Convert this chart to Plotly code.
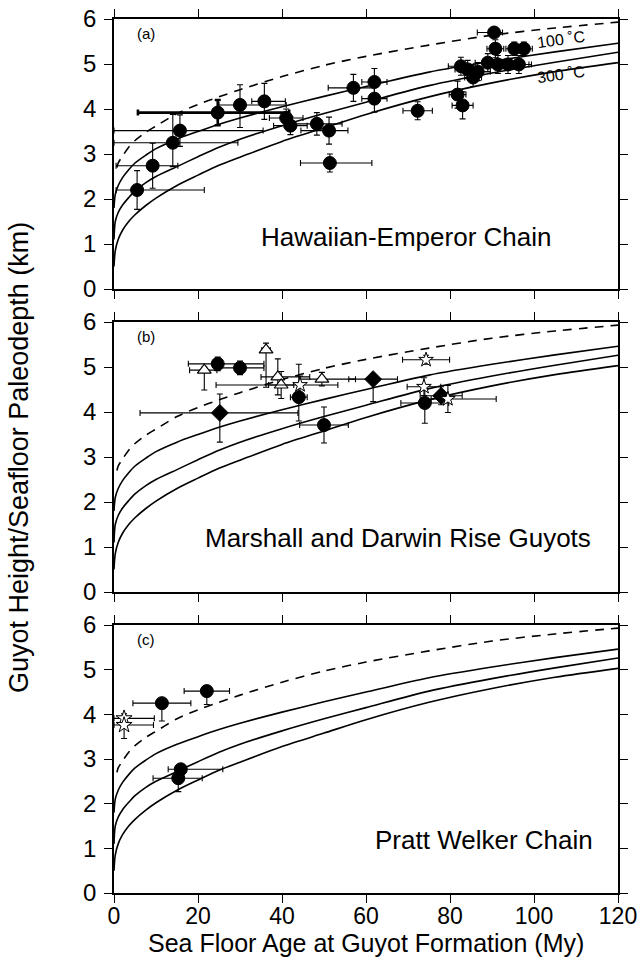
import plotly.graph_objects as go

FONT = "Liberation Sans, Arial, Helvetica, sans-serif"

# ---------------- model curves ----------------
curve_age = [0, 0.3, 1, 2, 3.5, 5, 7.5, 10, 15, 20, 25, 30, 40, 50, 60, 75, 90, 105, 120]
curve_top = [1.8, 2.1, 2.3, 2.47, 2.65, 2.8, 2.97, 3.12, 3.33, 3.5, 3.66, 3.8, 4.05, 4.28, 4.5, 4.82, 5.06, 5.27, 5.46]
curve_mid = [1.1, 1.5, 1.7, 1.86, 2.03, 2.18, 2.36, 2.5, 2.72, 2.94, 3.15, 3.33, 3.63, 3.9, 4.15, 4.52, 4.8, 5.04, 5.26]
curve_bot = [0.5, 0.85, 1.1, 1.3, 1.5, 1.65, 1.85, 2.02, 2.3, 2.53, 2.75, 2.93, 3.28, 3.58, 3.88, 4.27, 4.58, 4.83, 5.03]
dashed_age = [0.7, 1, 2, 3.5, 5, 7.5, 10, 15, 20, 25, 30, 40, 50, 60, 75, 90, 105, 120]
dashed_val = [2.7, 2.8, 2.95, 3.15, 3.3, 3.48, 3.62, 3.9, 4.1, 4.27, 4.43, 4.72, 4.97, 5.17, 5.42, 5.64, 5.8, 5.93]

# ---------------- (a) Hawaiian-Emperor Chain ----------------
ha_age = [5.5, 9.2, 14.0, 15.7, 30.0, 35.8, 41.0, 42.0, 48.3, 51.2, 51.4, 57.0, 62.0, 62.0, 72.3,
          81.8, 83.0, 90.5, 90.8, 95.3, 97.6, 82.6, 84.2, 85.5, 86.6, 89.0, 91.4, 93.8, 96.4]
ha_depth = [2.2, 2.74, 3.25, 3.52, 4.09, 4.17, 3.8, 3.63, 3.67, 3.52, 2.8, 4.47, 4.6, 4.23, 3.96,
            4.32, 4.08, 5.7, 5.34, 5.34, 5.34, 4.95, 4.88, 4.7, 4.83, 5.03, 4.99, 4.99, 4.99]
ha_xm = [5.0, 8.7, 14.0, 15.7, 5.0, 3.0, 4.0, 4.0, 6.0, 6.7, 7.0, 6.0, 3.0, 3.0, 3.5,
         2.0, 2.5, 4.0, 2.0, 2.0, 2.0, 3.0, 3.0, 2.0, 3.0, 3.0, 3.0, 3.0, 3.0]
ha_xp = [16.0, 6.0, 15.5, 19.8, 11.0, 5.0, 4.0, 4.0, 6.0, 4.5, 10.0, 5.0, 3.0, 3.0, 3.5,
         2.0, 2.5, 2.0, 2.0, 2.0, 2.0, 3.0, 3.0, 2.0, 3.0, 3.0, 3.0, 5.0, 3.0]
ha_ym = [0.43, 0.5, 0.53, 0.35, 0.5, 0.4, 0.2, 0.2, 0.25, 0.3, 0.2, 0.3, 0.3, 0.3, 0.2,
         0.3, 0.3, 0.1, 0.2, 0.15, 0.15, 0.2, 0.2, 0.2, 0.2, 0.2, 0.2, 0.2, 0.2]
ha_yp = [0.43, 0.5, 0.63, 0.35, 0.45, 0.4, 0.2, 0.2, 0.25, 0.3, 0.2, 0.3, 0.3, 0.3, 0.2,
         0.3, 0.3, 0.1, 0.2, 0.15, 0.15, 0.2, 0.2, 0.2, 0.2, 0.2, 0.2, 0.2, 0.2]
ha_thick_age = [24.7]
ha_thick_depth = [3.92]
ha_thick_xm = [19.0]
ha_thick_xp = [17.0]
ha_thick_y = [0.28]

# ---------------- (b) Marshall and Darwin Rise Guyots ----------------
mb_circ_age = [24.7, 30.0, 44.0, 50.0, 74.0]
mb_circ_depth = [5.07, 4.98, 4.33, 3.71, 4.2]
mb_circ_xm = [7.0, 6.0, 2.0, 5.8, 5.7]
mb_circ_xp = [11.0, 5.7, 2.0, 5.8, 5.7]
mb_circ_ym = [0.15, 0.15, 0.53, 0.4, 0.45]
mb_circ_yp = [0.15, 0.15, 0.73, 0.4, 0.36]

mb_tri_age = [21.5, 36.2, 39.0, 39.8, 49.5]
mb_tri_depth = [4.93, 5.38, 4.78, 4.6, 4.73]
mb_tri_xm = [3.5, 1.0, 4.0, 3.0, 5.2]
mb_tri_xp = [3.0, 1.0, 7.6, 3.0, 8.0]
mb_tri_ym = [0.44, 0.83, 0.4, 0.3, 0.15]
mb_tri_yp = [0.07, 0.15, 0.4, 0.3, 0.15]

mb_dia_age = [25.2, 61.7, 77.9]
mb_dia_depth = [3.98, 4.73, 4.36]
mb_dia_xm = [19.0, 5.8, 5.0]
mb_dia_xp = [18.6, 5.8, 5.0]
mb_dia_ym = [0.65, 0.5, 0.2]
mb_dia_yp = [0.42, 0.1, 0.2]

mb_star_age = [44.3, 74.3, 73.8, 79.5]
mb_star_depth = [4.6, 5.16, 4.56, 4.29]
mb_star_xm = [20.0, 5.6, 4.0, 4.0]
mb_star_xp = [9.0, 5.6, 4.0, 11.5]
mb_star_ym = [0.2, 0.1, 0.2, 0.3]
mb_star_yp = [0.2, 0.1, 0.2, 0.3]

# ---------------- (c) Pratt Welker Chain ----------------
pw_circ_age = [11.4, 22.1, 15.9, 15.3]
pw_circ_depth = [4.25, 4.52, 2.77, 2.57]
pw_circ_xm = [6.9, 5.4, 3.0, 6.0]
pw_circ_xp = [6.9, 5.4, 10.0, 5.7]
pw_circ_ym = [0.4, 0.3, 0.1, 0.3]
pw_circ_yp = [0.05, 0.05, 0.1, 0.05]

pw_star_age = [2.4, 2.4]
pw_star_depth = [3.91, 3.76]
pw_star_xm = [2.4, 2.4]
pw_star_xp = [7.2, 7.0]
pw_star_ym = [0.1, 0.3]
pw_star_yp = [0.1, 0.1]

x_ticks = [0, 20, 40, 60, 80, 100, 120]
y_ticks = [0, 1, 2, 3, 4, 5, 6]

panel_labels = ["(a)", "(b)", "(c)"]
chain_labels = ["Hawaiian-Emperor Chain", "Marshall and Darwin Rise Guyots", "Pratt Welker Chain"]
iso_labels = ["100 ˚C", "300 ˚C"]

x_title = "Sea Floor Age at Guyot Formation (My)"
y_title = "Guyot Height/Seafloor Paleodepth (km)"

fig = go.Figure()

# axes ids: panel a -> x3/y3, panel b -> x2/y2, panel c -> x/y
panels = [("x3", "y3"), ("x2", "y2"), ("x", "y")]


def add_curves(xa, ya):
    for vals in (curve_top, curve_mid, curve_bot):
        fig.add_trace(go.Scatter(x=curve_age, y=vals, mode="lines", xaxis=xa, yaxis=ya,
                                 line=dict(color="black", width=1.6, shape="spline", smoothing=0.8),
                                 hoverinfo="skip", showlegend=False))
    fig.add_trace(go.Scatter(x=dashed_age, y=dashed_val, mode="lines", xaxis=xa, yaxis=ya,
                             line=dict(color="black", width=1.6, dash="9px,7px", shape="spline",
                                       smoothing=0.8),
                             hoverinfo="skip", showlegend=False))


def add_points(xa, ya, xs, ys, xm, xp, ym, yp, symbol, size, fill, thick=1.1, linew=1.0):
    fig.add_trace(go.Scatter(
        x=xs, y=ys, mode="markers", xaxis=xa, yaxis=ya, showlegend=False,
        marker=dict(symbol=symbol, size=size, color=fill, line=dict(color="black", width=linew)),
        error_x=dict(type="data", symmetric=False, array=xp, arrayminus=xm,
                     color="black", thickness=thick, width=3),
        error_y=dict(type="data", symmetric=False, array=yp, arrayminus=ym,
                     color="black", thickness=thick, width=3),
    ))


for xa, ya in panels:
    add_curves(xa, ya)

# panel a
add_points("x3", "y3", ha_thick_age, ha_thick_depth, ha_thick_xm, ha_thick_xp,
           ha_thick_y, ha_thick_y, "circle", 13, "black", thick=2.6)
add_points("x3", "y3", ha_age, ha_depth, ha_xm, ha_xp, ha_ym, ha_yp, "circle", 13, "black")

# panel b
add_points("x2", "y2", mb_tri_age, mb_tri_depth, mb_tri_xm, mb_tri_xp, mb_tri_ym, mb_tri_yp,
           "triangle-up", 12, "white", linew=1.2)
add_points("x2", "y2", mb_circ_age, mb_circ_depth, mb_circ_xm, mb_circ_xp, mb_circ_ym, mb_circ_yp,
           "circle", 13, "black")
add_points("x2", "y2", mb_dia_age, mb_dia_depth, mb_dia_xm, mb_dia_xp, mb_dia_ym, mb_dia_yp,
           "diamond", 13, "black")
add_points("x2", "y2", mb_star_age, mb_star_depth, mb_star_xm, mb_star_xp, mb_star_ym, mb_star_yp,
           "star", 11, "white", linew=1.0)

# panel c
add_points("x", "y", pw_circ_age, pw_circ_depth, pw_circ_xm, pw_circ_xp, pw_circ_ym, pw_circ_yp,
           "circle", 13, "black")
add_points("x", "y", pw_star_age, pw_star_depth, pw_star_xm, pw_star_xp, pw_star_ym, pw_star_yp,
           "star", 12, "white", linew=1.0)

axis_common = dict(range=[0, 120], showgrid=False, zeroline=False, showline=True,
                   linecolor="black", linewidth=1.8, mirror="ticks", ticks="outside",
                   ticklen=8, tickwidth=1.3, tickcolor="black", tickvals=x_ticks,
                   automargin=False)
yaxis_common = dict(range=[0, 6], showgrid=False, zeroline=False, showline=True,
                    linecolor="black", linewidth=1.8, mirror="ticks", ticks="outside",
                    ticklen=8, tickwidth=1.3, tickcolor="black", tickvals=y_ticks,
                    ticklabelstandoff=3, automargin=False,
                    tickfont=dict(family=FONT, size=24, color="black"))

H = 874.0
dom_c = [0, 268 / H]
dom_b = [301 / H, 571 / H]
dom_a = [604 / H, 1.0]

fig.update_layout(
    width=641, height=968,
    autosize=False,
    margin=dict(l=114, r=23, t=19, b=75, autoexpand=False),
    paper_bgcolor="white", plot_bgcolor="white",
    font=dict(family=FONT, color="black"),
    showlegend=False,
    xaxis=dict(**axis_common, anchor="y", ticklabelstandoff=-7,
               tickfont=dict(family=FONT, size=23, color="black")),
    xaxis2=dict(**axis_common, anchor="y2", matches="x", showticklabels=False),
    xaxis3=dict(**axis_common, anchor="y3", matches="x", showticklabels=False),
    yaxis=dict(**yaxis_common, domain=dom_c, anchor="x"),
    yaxis2=dict(**yaxis_common, domain=dom_b, anchor="x2"),
    yaxis3=dict(**yaxis_common, domain=dom_a, anchor="x3"),
)

ann = []
# panel letters
for (xa, ya), lab in zip(panels, panel_labels):
    ann.append(dict(x=7.6, y=5.68, xref=xa, yref=ya, text=lab, showarrow=False,
                    font=dict(family=FONT, size=15, color="black")))
# chain labels
chain_pos = [(69.5, 1.15), (67.5, 1.2), (88.0, 1.18)]
for (xa, ya), lab, (cx, cy) in zip(panels, chain_labels, chain_pos):
    ann.append(dict(x=cx, y=cy, xref=xa, yref=ya, text=lab, showarrow=False,
                    font=dict(family=FONT, size=26, color="black")))
# isotherm labels
ann.append(dict(x=106.5, y=5.55, xref="x3", yref="y3", text=iso_labels[0], showarrow=False,
                textangle=-8, font=dict(family=FONT, size=16, color="black")))
ann.append(dict(x=106.5, y=4.76, xref="x3", yref="y3", text=iso_labels[1], showarrow=False,
                textangle=-8, font=dict(family=FONT, size=16, color="black")))
# axis titles
ann.append(dict(x=0.5, y=(893 - 943) / H, xref="paper", yref="paper", text=x_title,
                showarrow=False, xanchor="center", yanchor="middle",
                font=dict(family=FONT, size=25, color="black")))
ann.append(dict(x=(19 - 114) / 504.0, y=(893 - 458) / H, xref="paper", yref="paper", text=y_title,
                showarrow=False, textangle=-90, xanchor="center", yanchor="middle",
                font=dict(family=FONT, size=27, color="black")))
fig.update_layout(annotations=ann)

fig.write_html(
    "out.html",
    config={"displayModeBar": False},
    post_script=("document.body.style.margin='0px';"
                 "document.body.style.overflow='hidden';"
                 "document.documentElement.style.overflow='hidden';"),
)
